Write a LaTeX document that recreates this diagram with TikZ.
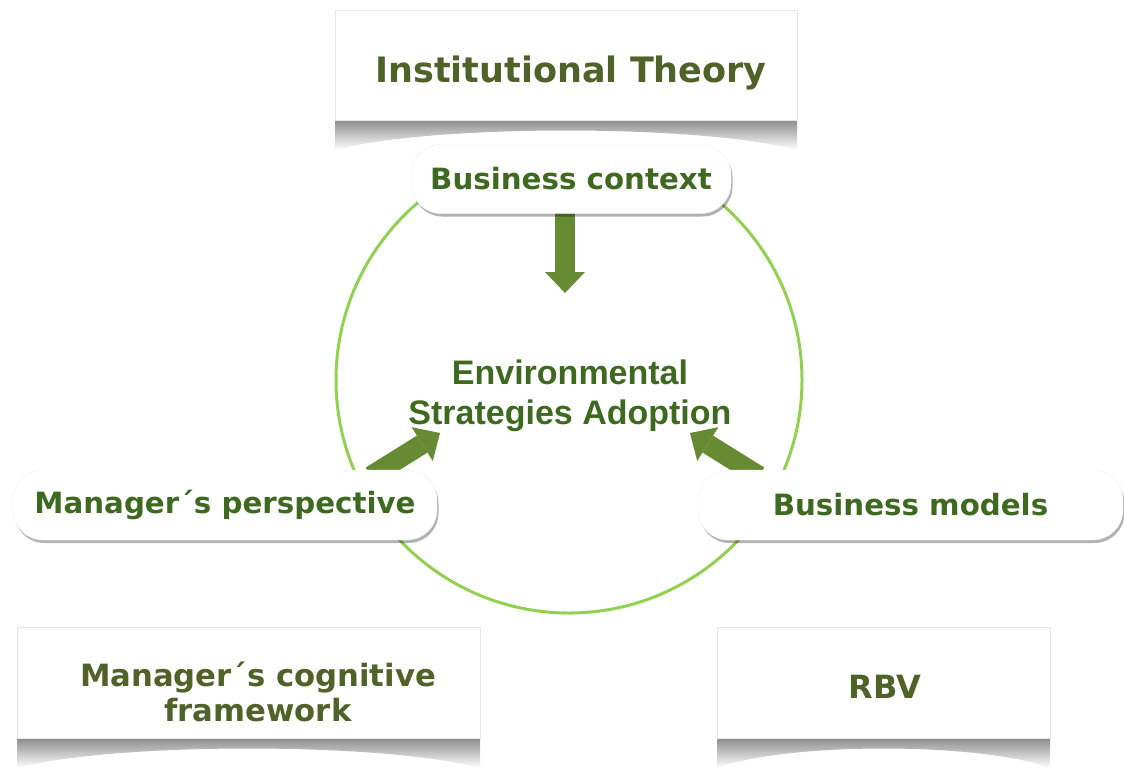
\documentclass[tikz,border=0pt]{standalone}
\usepackage{fontspec}
\setmainfont{DejaVu Sans}
\newfontfamily\centerfont{Liberation Sans}
\usetikzlibrary{arrows.meta,shadows}
\definecolor{ringgreen}{RGB}{146,208,80}
\definecolor{arrowgreen}{RGB}{102,139,50}
\definecolor{pilltext}{RGB}{62,106,32}
\definecolor{boxtext}{RGB}{79,98,40}
\tikzset{
  pill/.style={draw=black!6, fill=white, rounded corners=30pt, minimum height=66pt,
    drop shadow={shadow xshift=1.5pt, shadow yshift=-3pt, opacity=0.3, fill=black},
    text=pilltext, font=\bfseries\fontsize{29.3}{35}\selectfont},
  theorybox/.style={draw=black!10, line width=0.8pt, fill=white, inner sep=0pt},
  boxlabel/.style={text=boxtext, align=center, font=\bfseries\fontsize{30.7}{35}\selectfont},
  bigarrow/.style={draw=arrowgreen, line width=20pt,
    -{Triangle[width=40pt,length=21pt,line width=0pt]}},
  curveshade/.style={top color=black!45, bottom color=white, draw=none}
}
\begin{document}
\begin{tikzpicture}[x=1pt,y=-1pt]
\useasboundingbox (0,0) rectangle (1124,769);
% curved shadows under the theory boxes
\shade[curveshade] (335,120) -- (797,120) -- (797,150) .. controls (700,124) and (432,124) .. (335,150) -- cycle;
\shade[curveshade] (17,738) -- (480,738) -- (480,768) .. controls (383,742) and (114,742) .. (17,768) -- cycle;
\shade[curveshade] (717,738) -- (1050,738) -- (1050,768) .. controls (980,742) and (787,742) .. (717,768) -- cycle;
% theory boxes
\node[theorybox, minimum width=462pt, minimum height=110pt] (inst) at (566,65) {};
\node[boxlabel, font=\bfseries\fontsize{35}{40}\selectfont] (instlbl) at (571,73) {Institutional Theory};
\node[theorybox, minimum width=463pt, minimum height=111pt] (cog) at (248.5,682.5) {};
\node[boxlabel] (coglbl) at (258,692) {Manager´s cognitive\\framework};
\node[theorybox, minimum width=333pt, minimum height=111pt] (rbv) at (883.5,682.5) {};
\node[boxlabel, font=\bfseries\fontsize{32}{35}\selectfont] (rbvlbl) at (885,687) {RBV};
% ring
\node[circle, draw=ringgreen, line width=3pt, minimum size=466pt, inner sep=0pt] (ring) at (569,380) {};
% centre text
\node[text=pilltext, align=center, font=\centerfont\bfseries\fontsize{34}{40}\selectfont] (esa) at (570,396) {Environmental\\Strategies Adoption};
% arrows (tails hidden under the pills)
\coordinate (ctxtail) at (565,212);
\coordinate (ctxtip) at (565,293);
\coordinate (mgrtail) at (371,476);
\coordinate (mgrtip) at (440,433);
\coordinate (bmtail) at (759,476);
\coordinate (bmtip) at (690,433);
\draw[bigarrow] (ctxtail) -- (ctxtip);
\draw[bigarrow] (mgrtail) -- (mgrtip);
\draw[bigarrow] (bmtail) -- (bmtip);
% pills
\node[pill, minimum width=320pt, minimum height=69pt] (ctx) at (571,179) {Business context};
\node[pill, minimum width=424pt, minimum height=70pt] (mgr) at (225,505) {Manager´s perspective};
\node[pill, minimum width=425pt, minimum height=70pt] (bm) at (910.5,505) {Business models};
\end{tikzpicture}
\end{document}
